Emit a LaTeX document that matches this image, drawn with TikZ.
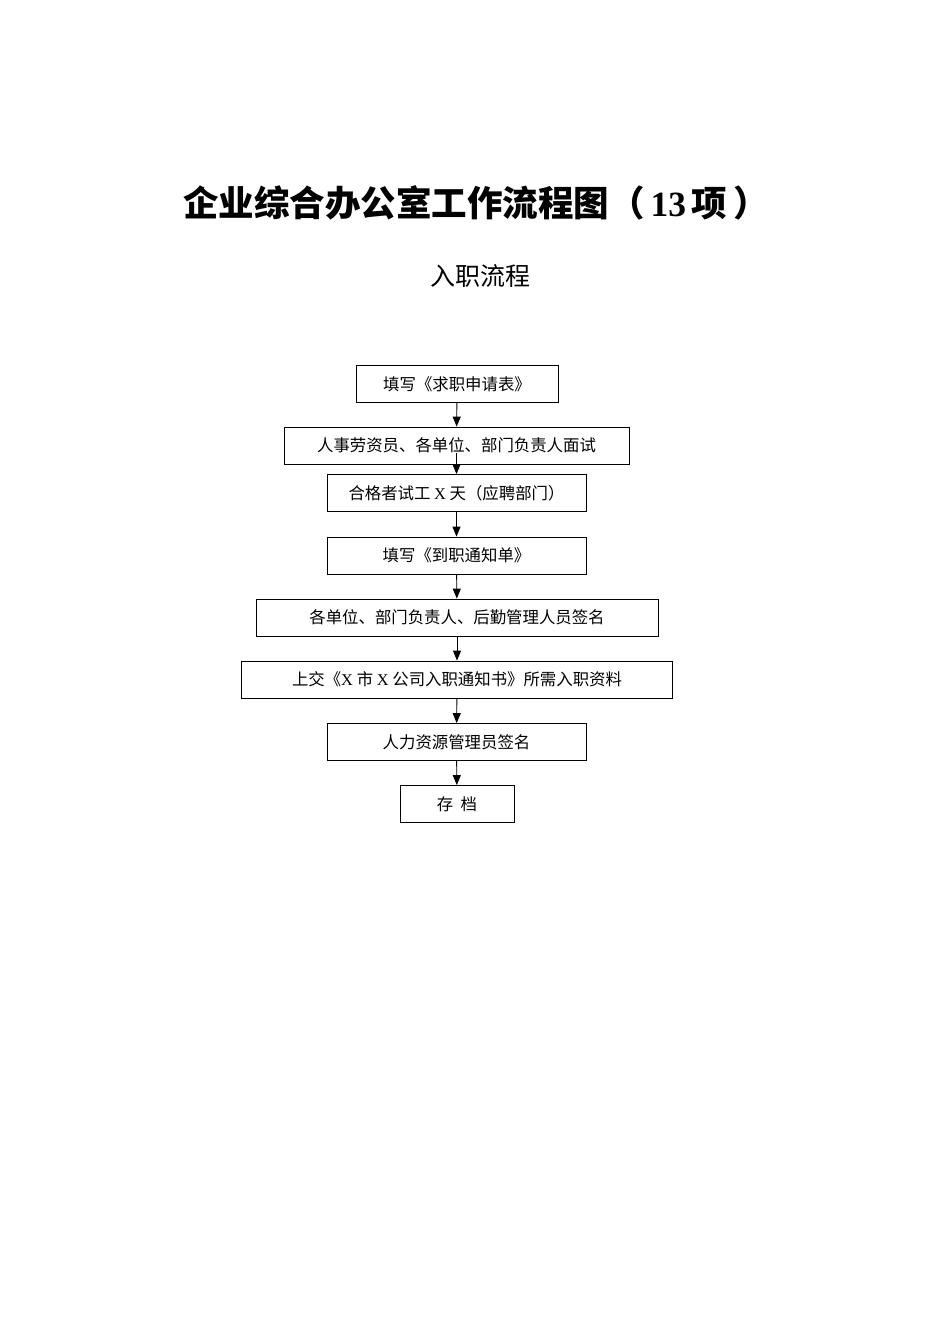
\documentclass[tikz,border=0pt]{standalone}
\usepackage{fontspec}
\setmainfont{Liberation Serif}
\newfontfamily\cjk{Noto Sans CJK SC}
\usetikzlibrary{arrows.meta}
\newcommand{\Lt}[1]{{\rmfamily #1}}

\begin{document}
\begin{tikzpicture}[x=1pt, y=-1pt,
  box/.style = {draw, line width=0.8pt, minimum height=37pt, inner sep=0pt,
                font=\cjk\fontsize{16.4}{19}\selectfont},
  arr/.style = {line width=0.9pt, -{Triangle[length=10pt,width=8pt]}},
every node/.style = {align=center}]

\useasboundingbox (0,0) rectangle (950,1344);

% titles
\node (title) at (476,203) {\fontsize{35.5}{40}\selectfont\bfseries{\cjk 企业综合办公室工作流程图（}\,13\,{\cjk 项\,）}};
\node (sub) at (480,276) {\cjk\fontsize{25}{30}\selectfont 入职流程};

% steps
\node[box, minimum width=202pt] (apply)  at (457,384)   {填写《求职申请表》};
\node[box, minimum width=345pt] (interv) at (456.5,445.5) {人事劳资员、各单位、部门负责人面试};
\node[box, minimum width=259pt] (trial)  at (456.5,493) {合格者试工 \Lt{X} 天（应聘部门）};
\node[box, minimum width=259pt] (notice) at (456.5,555.5) {填写《到职通知单》};
\node[box, minimum width=402pt] (sign)   at (457,617.5) {各单位、部门负责人、后勤管理人员签名};
\node[box, minimum width=431pt] (submit) at (457,679.5) {上交《\Lt{X} 市 \Lt{X} 公司入职通知书》所需入职资料};
\node[box, minimum width=259pt] (hr)     at (456.5,742) {人力资源管理员签名};
\node[box, minimum width=114pt] (file)   at (457,804)   {存\ \ 档};

% arrows
\draw[arr] (apply) -- (interv);
\draw[arr] ([yshift=11pt]interv.south) -- (trial);
\draw[arr] (trial) -- (notice);
\draw[arr] (notice) -- (sign);
\draw[arr] (sign) -- (submit);
\draw[arr] (submit) -- (hr);
\draw[arr] (hr) -- (file);
\end{tikzpicture}
\end{document}
